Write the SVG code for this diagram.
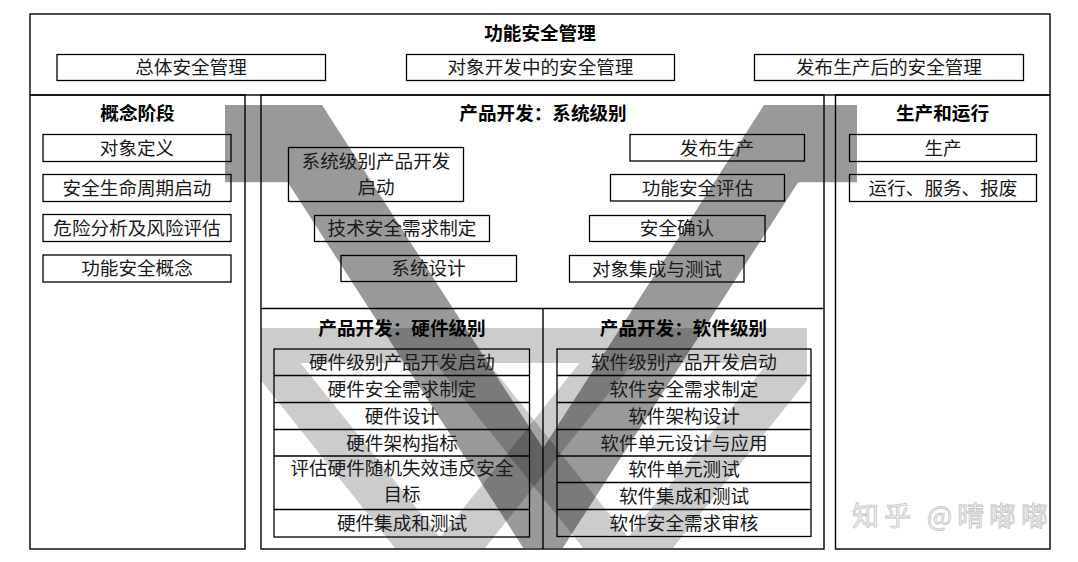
<svg xmlns="http://www.w3.org/2000/svg" width="1078" height="562" viewBox="0 0 1078 562">
<style>
.frame{fill:none;stroke:#000;stroke-width:1.4}
.box{fill:none;stroke:#000;stroke-width:1.3}
.t{font-family:"Noto Sans CJK SC","Noto Sans",sans-serif;font-size:18.6px;fill:#1a1a1a;text-anchor:middle;dominant-baseline:central}
.h{font-weight:bold;fill:#000}
.dark{fill:#000;fill-opacity:0.4}
.light{fill:#000;fill-opacity:0.2}
.wm{font-family:"Noto Sans CJK SC","Noto Sans",sans-serif;font-size:27px;fill:#f6f6f6;stroke:#c4c4c4;stroke-width:0.8;dominant-baseline:central}
</style>
<defs>
<clipPath id="lowclip"><rect x="261" y="308" width="546" height="240"/></clipPath>
</defs>
<rect x="0" y="0" width="1078" height="562" fill="#fff"/>
<g id="background-v">
<polygon class="dark" points="225,105 322,105 543,448.2 764,105 857,105 857,182.3 798.2,182.3 562.7,548 523.3,548 287.8,182.3 225,182.3"/>
<g clip-path="url(#lowclip)">
<rect class="light" x="261" y="328" width="546" height="35"/>
<polygon class="light" points="247,363 300.5,363 440,537.4 579.5,363 633,363 485,548 395,548"/>
<polygon class="light" points="435.1,363 488.5,363 628,537.4 767.5,363 820.9,363 672.9,548 583.1,548"/>
</g>
</g>
<g id="functional-safety-management">
<rect class="frame" x="30" y="14" width="1020" height="81"/>
<text class="t h" x="540" y="31.5">功能安全管理</text>
<g id="overall-safety-management"><rect class="box" x="57" y="54.5" width="268.5" height="26"/><text class="t" x="191" y="65.8">总体安全管理</text></g>
<g id="safety-management-development"><rect class="box" x="406.5" y="54.5" width="268" height="26"/><text class="t" x="540.5" y="65.8">对象开发中的安全管理</text></g>
<g id="safety-management-after-release"><rect class="box" x="754.5" y="54.5" width="269" height="26"/><text class="t" x="889" y="65.8">发布生产后的安全管理</text></g>
</g>
<g id="concept-phase">
<rect class="frame" x="30" y="95" width="215" height="454"/>
<text class="t h" x="137.5" y="111">概念阶段</text>
<g id="item-definition"><rect class="box" x="43" y="134.5" width="188" height="27"/><text class="t" x="137" y="146.3">对象定义</text></g>
<g id="lifecycle-initiation"><rect class="box" x="43" y="174.5" width="188" height="27"/><text class="t" x="137" y="186.3">安全生命周期启动</text></g>
<g id="hara"><rect class="box" x="43" y="214.5" width="188" height="27"/><text class="t" x="137" y="226.3">危险分析及风险评估</text></g>
<g id="fsc"><rect class="box" x="43" y="255" width="188" height="27"/><text class="t" x="137" y="266.8">功能安全概念</text></g>
</g>
<g id="system-level">
<rect class="frame" x="261" y="95" width="563" height="454"/>
<text class="t h" x="543" y="111">产品开发：系统级别</text>
<g id="sys-initiation"><rect class="box" x="288.5" y="147.5" width="175" height="54"/><text class="t" x="376" y="159.8">系统级别产品开发</text><text class="t" x="376" y="185">启动</text></g>
<g id="tsr"><rect class="box" x="314.5" y="215.5" width="175" height="26"/><text class="t" x="402" y="226.8">技术安全需求制定</text></g>
<g id="system-design"><rect class="box" x="341" y="255.5" width="175.5" height="26"/><text class="t" x="428.5" y="266.8">系统设计</text></g>
<g id="release"><rect class="box" x="630" y="134.5" width="174.5" height="26.5"/><text class="t" x="717" y="146">发布生产</text></g>
<g id="fs-assessment"><rect class="box" x="610.5" y="174.5" width="174" height="26.5"/><text class="t" x="697.5" y="186">功能安全评估</text></g>
<g id="safety-validation"><rect class="box" x="589.5" y="215.5" width="175.5" height="26"/><text class="t" x="677" y="226.8">安全确认</text></g>
<g id="integration-testing"><rect class="box" x="569.5" y="255.5" width="174.5" height="26.5"/><text class="t" x="657" y="267">对象集成与测试</text></g>
<line class="frame" x1="261" y1="308.5" x2="824" y2="308.5"/>
<line class="frame" x1="543" y1="308.5" x2="543" y2="549"/>
</g>
<g id="hardware-level">
<text class="t h" x="402" y="326">产品开发：硬件级别</text>
<rect class="box" x="274" y="349" width="255.5" height="188"/>
<g class="box">
<line x1="274" y1="375.5" x2="529.5" y2="375.5"/>
<line x1="274" y1="402.5" x2="529.5" y2="402.5"/>
<line x1="274" y1="429.5" x2="529.5" y2="429.5"/>
<line x1="274" y1="456" x2="529.5" y2="456"/>
<line x1="274" y1="509.5" x2="529.5" y2="509.5"/>
</g>
<text class="t" x="402" y="360.5">硬件级别产品开发启动</text>
<text class="t" x="402" y="387.3">硬件安全需求制定</text>
<text class="t" x="402" y="414.3">硬件设计</text>
<text class="t" x="402" y="441">硬件架构指标</text>
<text class="t" x="402" y="466.8">评估硬件随机失效违反安全</text>
<text class="t" x="402" y="492">目标</text>
<text class="t" x="402" y="521.5">硬件集成和测试</text>
</g>
<g id="software-level">
<text class="t h" x="683.5" y="326">产品开发：软件级别</text>
<rect class="box" x="557" y="349" width="254" height="187.5"/>
<g class="box">
<line x1="557" y1="375.5" x2="811" y2="375.5"/>
<line x1="557" y1="402.5" x2="811" y2="402.5"/>
<line x1="557" y1="429.5" x2="811" y2="429.5"/>
<line x1="557" y1="456" x2="811" y2="456"/>
<line x1="557" y1="482.5" x2="811" y2="482.5"/>
<line x1="557" y1="509.5" x2="811" y2="509.5"/>
</g>
<text class="t" x="684" y="360.5">软件级别产品开发启动</text>
<text class="t" x="684" y="387.3">软件安全需求制定</text>
<text class="t" x="684" y="414.3">软件架构设计</text>
<text class="t" x="684" y="441">软件单元设计与应用</text>
<text class="t" x="684" y="467.5">软件单元测试</text>
<text class="t" x="684" y="494.3">软件集成和测试</text>
<text class="t" x="684" y="521.3">软件安全需求审核</text>
</g>
<g id="production-operation">
<rect class="frame" x="835.5" y="95" width="214.5" height="454"/>
<text class="t h" x="942.5" y="111">生产和运行</text>
<g id="production"><rect class="box" x="849.5" y="134.5" width="187" height="27"/><text class="t" x="943" y="146.3">生产</text></g>
<g id="operation"><rect class="box" x="849.5" y="174.5" width="187" height="27"/><text class="t" x="943" y="186.3">运行、服务、报废</text></g>
</g>
<g id="connectors"></g>
<text class="wm" x="852" y="514" textLength="196" lengthAdjust="spacing">知乎 @晴嘟嘟</text>
</svg>
